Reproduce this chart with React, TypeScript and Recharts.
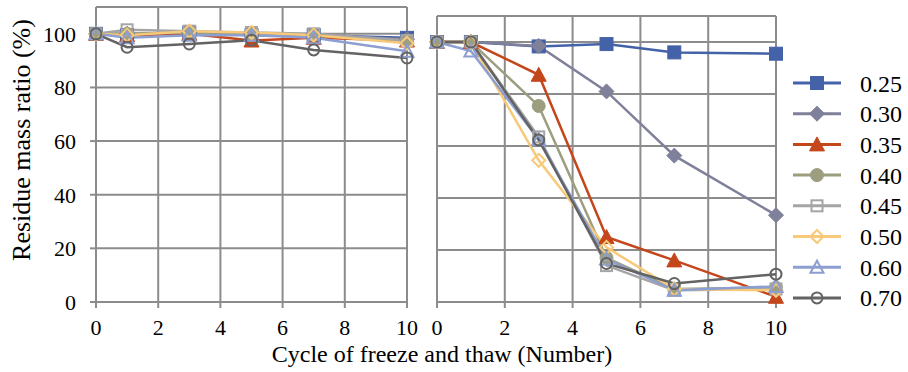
import React from 'react';
import { LineChart, Line, XAxis, YAxis, CartesianGrid } from 'recharts';

const cycles = [0, 1, 3, 5, 7, 10];
const xTicks = [0, 2, 4, 6, 8, 10];
const yTicks = [0, 20, 40, 60, 80, 100];
const seriesNames = ['0.25', '0.30', '0.35', '0.40', '0.45', '0.50', '0.60', '0.70'];

// left panel
const left25 = [100, 99.5, 100.5, 99.5, 99.5, 98.5];
const left30 = [100, 100, 100.5, 100, 99.5, 98];
const left35 = [100, 99.5, 100, 97.5, 98.5, 97.5];
const left40 = [100, 100, 100.5, 99.5, 99.5, 97.5];
const left45 = [100, 101.5, 101, 100.5, 100, 97.5];
const left50 = [100, 99.5, 101, 100.5, 99.5, 96.5];
const left60 = [100, 98.5, 99.5, 99.5, 98.5, 93.5];
const left70 = [100, 95, 96.2, 97.6, 94, 91];

// right panel
const right25 = [100, 100, 98.3, 99.2, 96, 95.5];
const right30 = [100, 100, 98.5, 81, 56.3, 33.4];
const right35 = [100, 100, 87.4, 25, 16, 2];
const right40 = [100, 100, 75.4, 17, 5, 5.5];
const right45 = [100, 100, 63.5, 14, 4.5, 5];
const right50 = [100, 100, 54.5, 21, 5, 4.5];
const right60 = [100, 96.5, 62.5, 16.5, 4.5, 6];
const right70 = [100, 100, 62.3, 14.8, 7.1, 10.7];

const leftSeries = [left25, left30, left35, left40, left45, left50, left60, left70];
const rightSeries = [right25, right30, right35, right40, right45, right50, right60, right70];

const styles = [
  { color: '#4462a8', shape: 'square', filled: true },
  { color: '#7f8099', shape: 'diamond', filled: true },
  { color: '#c4471b', shape: 'triangle', filled: true },
  { color: '#9d9d80', shape: 'circle', filled: true },
  { color: '#a5a5a5', shape: 'square', filled: false },
  { color: '#f7c978', shape: 'diamond', filled: false },
  { color: '#8d9fd0', shape: 'triangle', filled: false },
  { color: '#636363', shape: 'circle', filled: false },
];

const toRows = (series: number[][]) =>
  cycles.map((c, i) => {
    const row: any = { cycle: c };
    series.forEach((s, j) => (row['s' + j] = s[i]));
    return row;
  });

const leftRows = toRows(leftSeries);
const rightRows = toRows(rightSeries);

const FONT = 'Liberation Serif, serif';
const GRID = '#8c8c8c';

const Marker = ({ cx, cy, shape, color, filled }: any) => {
  if (cx == null || cy == null) return null;
  const fill = filled ? color : 'none';
  const sw = filled ? 1 : 2;
  const r = filled ? 6.5 : 5.5;
  if (shape === 'square')
    return <rect x={cx - r} y={cy - r} width={r * 2} height={r * 2} fill={fill} stroke={color} strokeWidth={sw} />;
  if (shape === 'diamond') {
    const d = r + 1;
    return <polygon points={`${cx},${cy - d} ${cx + d},${cy} ${cx},${cy + d} ${cx - d},${cy}`} fill={fill} stroke={color} strokeWidth={sw} />;
  }
  if (shape === 'triangle') {
    const d = r + 1;
    return <polygon points={`${cx},${cy - d} ${cx + d},${cy + d - 1} ${cx - d},${cy + d - 1}`} fill={fill} stroke={color} strokeWidth={sw} />;
  }
  return <circle cx={cx} cy={cy} r={r} fill={fill} stroke={color} strokeWidth={sw} />;
};

const tickStyle = { fontSize: 22, fill: '#000', fontFamily: FONT };

const renderLines = () =>
  styles.map((st, j) => (
    <Line
      key={j}
      dataKey={'s' + j}
      stroke={st.color}
      strokeWidth={2.5}
      isAnimationActive={false}
      dot={(p: any) => <Marker key={p.index} cx={p.cx} cy={p.cy} {...st} />}
    />
  ));

export default function App() {
  return (
    <div style={{ position: 'absolute', left: 0, top: 0, width: 908, height: 372, background: '#fff', fontFamily: FONT }}>
      <div style={{ position: 'absolute', left: 0, top: 0 }}>
        <LineChart width={420} height={372} data={leftRows} margin={{ top: 7, right: 13, bottom: 30, left: 0 }}>
          <CartesianGrid stroke={GRID} strokeWidth={2} />
          <XAxis
            dataKey="cycle"
            type="number"
            domain={[0, 10]}
            ticks={xTicks}
            height={40}
            stroke={GRID}
            strokeWidth={2}
            tickSize={6}
            tickMargin={11}
            tick={tickStyle}
          />
          <YAxis
            type="number"
            domain={[0, 110]}
            ticks={yTicks}
            width={96}
            stroke={GRID}
            strokeWidth={2}
            tickSize={6}
            tickMargin={14}
            tick={tickStyle}
          />
          {renderLines()}
        </LineChart>
      </div>
      <div style={{ position: 'absolute', left: 420, top: 0 }}>
        <LineChart width={380} height={372} data={rightRows} margin={{ top: 16, right: 24, bottom: 30, left: 17 }}>
          <CartesianGrid stroke={GRID} strokeWidth={2} />
          <XAxis
            dataKey="cycle"
            type="number"
            domain={[0, 10]}
            ticks={xTicks}
            height={40}
            stroke={GRID}
            strokeWidth={2}
            tickSize={6}
            tickMargin={11}
            tick={tickStyle}
          />
          <YAxis type="number" domain={[0, 110]} ticks={yTicks} hide />
          {renderLines()}
        </LineChart>
      </div>
      <div
        style={{
          position: 'absolute',
          left: 22,
          top: 140,
          transform: 'translate(-50%, -50%) rotate(-90deg)',
          whiteSpace: 'nowrap',
          fontSize: 26,
        }}
      >
        Residue mass ratio (%)
      </div>
      <div
        style={{
          position: 'absolute',
          left: 442,
          top: 354,
          transform: 'translate(-50%, -50%)',
          whiteSpace: 'nowrap',
          fontSize: 24,
        }}
      >
        Cycle of freeze and thaw (Number)
      </div>
      <svg style={{ position: 'absolute', left: 780, top: 60 }} width={128} height={260}>
        {seriesNames.map((name, j) => {
          const y = 23 + j * 30.7;
          const st = styles[j];
          return (
            <g key={name}>
              <line x1={13} x2={61} y1={y} y2={y} stroke={st.color} strokeWidth={3} />
              <Marker cx={37} cy={y} {...st} />
              <text x={80} y={y} dy="0.355em" fontSize={24} fill="#000" fontFamily={FONT}>
                {name}
              </text>
            </g>
          );
        })}
      </svg>
    </div>
  );
}
